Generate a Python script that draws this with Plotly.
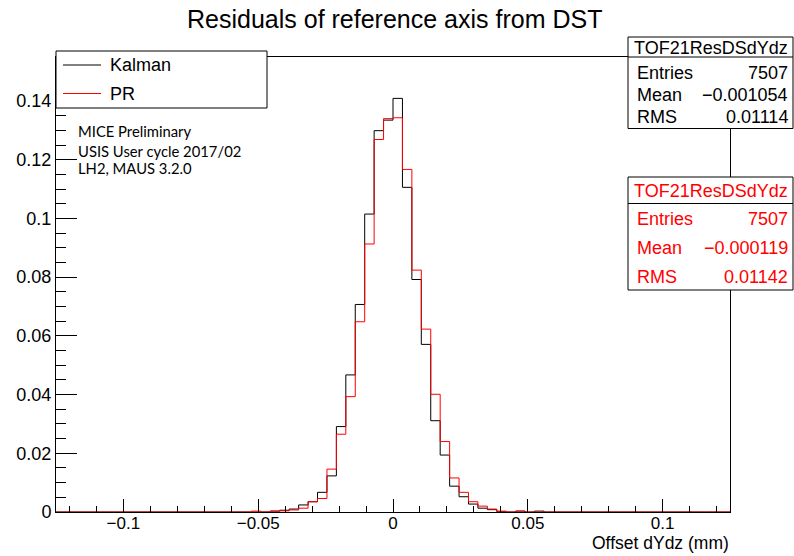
import numpy as np
import plotly.graph_objects as go

# ---------------- data ----------------
bin_width = 0.0035
first_edge = -0.0525          # low edge of first listed bin
kalman = [0.0, 0.0, 0.0003, 0.0006, 0.0010, 0.0024, 0.0035, 0.0067, 0.0123, 0.0291,
          0.0467, 0.0707, 0.1015, 0.1299, 0.1335, 0.1409, 0.1106, 0.0792, 0.0571, 0.0311,
          0.0194, 0.0088, 0.0052, 0.0027, 0.0013, 0.0008, 0.0001, 0.0, 0.0003, 0.0, 0.0003]
pr = [0.0003, 0.0, 0.0003, 0.0004, 0.0007, 0.0013, 0.0035, 0.0046, 0.0146, 0.0265,
      0.0393, 0.0648, 0.0913, 0.1269, 0.1340, 0.1343, 0.1167, 0.0824, 0.0623, 0.0401,
      0.0240, 0.0116, 0.0067, 0.0035, 0.0020, 0.0010, 0.0003, 0.0, 0.0003, 0.0, 0.0]
x_ticks = [-0.1, -0.05, 0, 0.05, 0.1]
x_ticktext = ["\u22120.1", "\u22120.05", "0", "0.05", "0.1"]
y_ticks = [0, 0.02, 0.04, 0.06, 0.08, 0.1, 0.12, 0.14]
y_ticktext = ["0", "0.02", "0.04", "0.06", "0.08", "0.1", "0.12", "0.14"]
stats_name = "TOF21ResDSdYdz"
stats_kalman = [("Entries", "7507"), ("Mean", "\u22120.001054"), ("RMS", "0.01114")]
stats_pr = [("Entries", "7507"), ("Mean", "\u22120.000119"), ("RMS", "0.01142")]
notes = ["MICE Preliminary", "USIS User cycle 2017/02", "LH2, MAUS 3.2.0"]

# -------------- build steps --------------
pad = 25  # zero bins on each side to cover axis range
def step(vals):
    v = [0.0] * pad + list(vals) + [0.0] * pad
    lo = first_edge - pad * bin_width
    edges = lo + bin_width * np.arange(len(v) + 1)
    return edges, v + [v[-1]]

FONT = "Liberation Sans, Arial, sans-serif"
W, H = 794, 556
L, R, T, B = 56, 64, 57, 44
PW, PH = W - L - R, H - T - B
def px(x): return (x - L) / PW
def py(y): return (H - B - y) / PH

fig = go.Figure()
ex, ey = step(kalman)
fig.add_trace(go.Scatter(x=ex, y=ey, mode="lines", line=dict(color="black", width=1, shape="hv"),
                         name="Kalman", showlegend=False))
ex, ey = step(pr)
fig.add_trace(go.Scatter(x=ex, y=ey, mode="lines", line=dict(color="#ff0000", width=1, shape="hv"),
                         name="PR", showlegend=False))

shapes = []
annots = []

def rect(x0, y0, x1, y1):
    shapes.append(dict(type="rect", xref="paper", yref="paper", x0=px(x0), x1=px(x1),
                       y0=py(y1), y1=py(y0), line=dict(color="black", width=1),
                       fillcolor="white", layer="above"))

def hline(x0, x1, y, color="black"):
    shapes.append(dict(type="line", xref="paper", yref="paper", x0=px(x0), x1=px(x1),
                       y0=py(y), y1=py(y), line=dict(color=color, width=1), layer="above"))

def text(x, y, s, size, color="black", xanchor="left", family=FONT):
    annots.append(dict(xref="paper", yref="paper", x=px(x), y=py(y), text=s, showarrow=False,
                       xanchor=xanchor, yanchor="middle",
                       font=dict(family=family, size=size, color=color)))

# legend
rect(56, 51, 267, 108)
hline(63, 101, 65, "black")
hline(63, 101, 93.5, "#ff0000")
text(108, 65, "Kalman", 18)
text(108, 94, "PR", 18)

# stats boxes
def stats_box(y0, ydiv, y1, header_y, rows_y, rows, color):
    rect(628, y0, 793, y1)
    hline(628, 793, ydiv)
    text(711, header_y, stats_name, 18, color, "center")
    for (k, v), yy in zip(rows, rows_y):
        text(635, yy, k, 18, color, "left")
        text(790, yy, v, 18, color, "right")

stats_box(37, 57, 128.5, 48, [72.5, 94.5, 117.5], stats_kalman, "black")
stats_box(177, 203.5, 290, 191, [219.5, 248.5, 276.5], stats_pr, "#ff0000")

# notes
for s, yy in zip(notes, [130.5, 150.5, 167.5]):
    text(76, yy, s, 14.8, "black", "left", "Lato, Open Sans, sans-serif")

# title and x-title
text(394, 19, "Residuals of reference axis from DST", 25, "black", "center")
text(731, 543, "Offset dYdz (mm)", 17.5, "black", "right")

fig.update_layout(
    width=W, height=H, margin=dict(l=L, r=R, t=T, b=B),
    paper_bgcolor="white", plot_bgcolor="white",
    font=dict(family=FONT, size=18, color="black"),
    shapes=shapes, annotations=annots, showlegend=False,
)
fig.update_xaxes(range=[-0.125, 0.125], showgrid=False, zeroline=False,
                 showline=True, mirror=True, linecolor="black", linewidth=1,
                 tickmode="array", tickvals=x_ticks, ticktext=x_ticktext,
                 ticks="inside", ticklen=13, tickcolor="black", tickwidth=1,
                 tickfont=dict(size=17), ticklabelstandoff=-4,
                 minor=dict(tickvals=[round(-0.12 + 0.01 * i, 3) for i in range(25)],
                            ticks="inside", ticklen=6.5, tickcolor="black", tickwidth=1))
fig.update_yaxes(range=[0, 0.155], showgrid=False, zeroline=False,
                 showline=True, mirror=True, linecolor="black", linewidth=1,
                 tickmode="array", tickvals=y_ticks, ticktext=y_ticktext,
                 ticks="inside", ticklen=21, tickcolor="black", tickwidth=1,
                 tickfont=dict(size=18),
                 minor=dict(tickvals=[round(0.005 * i, 3) for i in range(32)],
                            ticks="inside", ticklen=10, tickcolor="black", tickwidth=1))

fig.write_html("out.html")
